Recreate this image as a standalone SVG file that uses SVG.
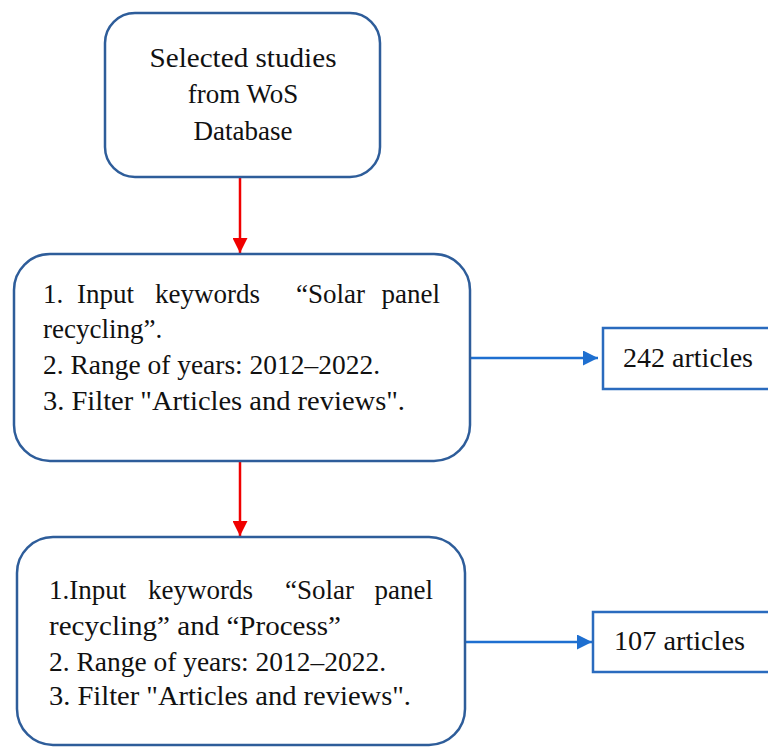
<svg xmlns="http://www.w3.org/2000/svg" width="768" height="747" viewBox="0 0 768 747">
<defs>
<style>
.box{fill:#fff;stroke:#2E5D9A;stroke-width:2.5}
.rbox{fill:#fff;stroke:#2A6BBE;stroke-width:2.5}
.t{font-family:"Liberation Serif","Times New Roman",serif;font-size:27px;fill:#111}
.red{stroke:#F00000;stroke-width:2.5;fill:none}
.blue{stroke:#1E6FD0;stroke-width:2.5;fill:none}
</style>
<marker id="ar" viewBox="0 0 10 10" refX="10" refY="5" markerWidth="6" markerHeight="6" markerUnits="strokeWidth" orient="auto">
<path d="M0,0 L10,5 L0,10 z" fill="#F00000"/>
</marker>
<marker id="ab" viewBox="0 0 10 10" refX="10" refY="5" markerWidth="6" markerHeight="6" markerUnits="strokeWidth" orient="auto">
<path d="M0,0 L10,5 L0,10 z" fill="#1E6FD0"/>
</marker>
</defs>
<rect width="768" height="747" fill="#fff"/>
<g id="connectors">
<line class="red" x1="240" y1="177" x2="240" y2="253" marker-end="url(#ar)"/>
<line class="red" x1="240" y1="461" x2="240" y2="536" marker-end="url(#ar)"/>
<line class="blue" x1="470" y1="358" x2="598" y2="358" marker-end="url(#ab)"/>
<line class="blue" x1="466" y1="642" x2="592" y2="642" marker-end="url(#ab)"/>
</g>
<g id="n1">
<rect class="box" x="105" y="13" width="275" height="164" rx="30"/>
<text class="t" x="243" y="67" text-anchor="middle" textLength="187" lengthAdjust="spacingAndGlyphs">Selected studies</text>
<text class="t" x="243" y="103" text-anchor="middle">from WoS</text>
<text class="t" x="243" y="140" text-anchor="middle">Database</text>
</g>
<g id="n2">
<rect class="box" x="14" y="254" width="456" height="207" rx="36"/>
<text class="t" x="43" y="303">1.</text>
<text class="t" x="77" y="303">Input</text>
<text class="t" x="155" y="303">keywords</text>
<text class="t" x="296" y="303">“Solar</text>
<text class="t" x="440" y="303" text-anchor="end">panel</text>
<text class="t" x="43" y="338">recycling”.</text>
<text class="t" x="43" y="374" textLength="337" lengthAdjust="spacingAndGlyphs">2. Range of years: 2012–2022.</text>
<text class="t" x="43" y="410" textLength="362" lengthAdjust="spacingAndGlyphs">3. Filter "Articles and reviews".</text>
</g>
<g id="n3">
<rect class="box" x="17" y="537" width="448" height="208" rx="36"/>
<text class="t" x="49" y="599">1.Input</text>
<text class="t" x="148" y="599">keywords</text>
<text class="t" x="285" y="599">“Solar</text>
<text class="t" x="433" y="599" text-anchor="end">panel</text>
<text class="t" x="49" y="635" textLength="292" lengthAdjust="spacingAndGlyphs">recycling” and “Process”</text>
<text class="t" x="49" y="671" textLength="337" lengthAdjust="spacingAndGlyphs">2. Range of years: 2012–2022.</text>
<text class="t" x="49" y="705" textLength="362" lengthAdjust="spacingAndGlyphs">3. Filter "Articles and reviews".</text>
</g>
<g id="n4">
<rect class="rbox" x="603" y="328" width="180" height="61"/>
<text class="t" x="623" y="367" textLength="130" lengthAdjust="spacingAndGlyphs">242 articles</text>
</g>
<g id="n5">
<rect class="rbox" x="593" y="612" width="190" height="60"/>
<text class="t" x="614" y="650" textLength="131" lengthAdjust="spacingAndGlyphs">107 articles</text>
</g>
</svg>
